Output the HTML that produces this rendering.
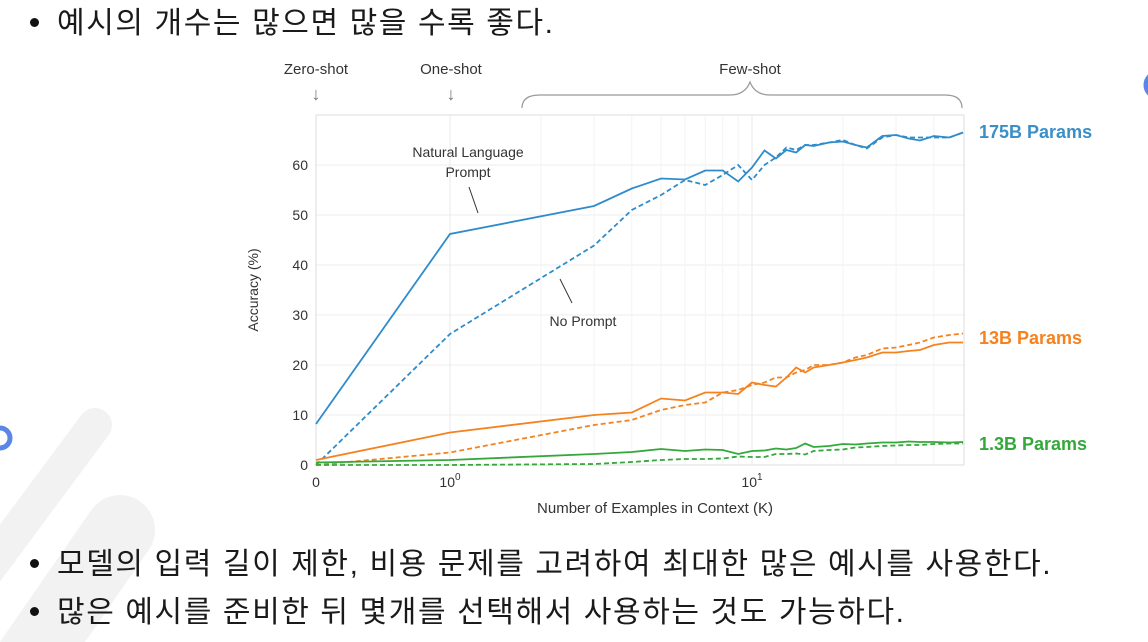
<!DOCTYPE html>
<html><head><meta charset="utf-8">
<style>
body{margin:0;width:1148px;height:642px;background:#fff;overflow:hidden;position:relative;font-family:"Liberation Sans","Noto Sans CJK KR",sans-serif;}
.bullet{position:absolute;left:30px;font-size:30px;letter-spacing:1.6px;color:#1a1a1a;font-family:"Liberation Sans","Noto Sans CJK KR",sans-serif;white-space:nowrap;line-height:40px;}
.bullet::before{content:"";display:inline-block;width:9px;height:9px;border-radius:50%;background:#111;margin-right:18px;vertical-align:middle;position:relative;top:-3px;}
svg{position:absolute;left:0;top:0;}
</style></head>
<body>
<svg width="1148" height="642">
  <g>
    <line x1="95" y1="425" x2="-20" y2="580" stroke="#f2f2f2" stroke-width="34" stroke-linecap="round"/>
    <line x1="120" y1="530" x2="30" y2="660" stroke="#f2f2f2" stroke-width="70" stroke-linecap="round"/>
    <circle cx="0" cy="438" r="10" fill="none" stroke="#5b86e5" stroke-width="5"/>
    <circle cx="1158" cy="85" r="12" fill="none" stroke="#5b86e5" stroke-width="5"/>
  </g>
  <g id="grid"></g>
  <rect x="316" y="115" width="648" height="350" fill="none" stroke="#ddd"/>
  <g id="marks"></g>
  <g id="axes" font-size="14" fill="#333"></g>
  <text x="0" y="0" transform="translate(258,290) rotate(-90)" text-anchor="middle" font-size="14" fill="#333">Accuracy (%)</text>
  <text x="655" y="513" text-anchor="middle" font-size="15" fill="#333">Number of Examples in Context  (K)</text>
  <g font-size="15" fill="#333" text-anchor="middle">
    <text x="316" y="74">Zero-shot</text>
    <text x="316" y="100" font-size="18" fill="#777">↓</text>
    <text x="451" y="74">One-shot</text>
    <text x="451" y="100" font-size="18" fill="#777">↓</text>
    <text x="750" y="74">Few-shot</text>
  </g>
  <path d="M522,108 Q522,95 540,95 L730,95 Q745,95 750,82 Q755,95 770,95 L945,95 Q962,95 962,108" fill="none" stroke="#999" stroke-width="1.2"/>
  <g font-size="14" fill="#333" text-anchor="middle">
    <text x="468" y="157">Natural Language</text>
    <text x="468" y="177">Prompt</text>
    <line x1="469" y1="187" x2="478" y2="213" stroke="#333"/>
    <text x="583" y="326">No Prompt</text>
    <line x1="560" y1="279" x2="572" y2="303" stroke="#333"/>
  </g>
  <g font-size="18" font-weight="bold">
    <text x="979" y="138" fill="#3a8fc8">175B Params</text>
    <text x="979" y="344" fill="#f5821f">13B Params</text>
    <text x="979" y="450" fill="#34a83a">1.3B Params</text>
  </g>
</svg>
<div class="bullet" style="top:4px;">예시의 개수는 많으면 많을 수록 좋다.</div>
<div class="bullet" style="top:545px;">모델의 입력 길이 제한, 비용 문제를 고려하여 최대한 많은 예시를 사용한다.</div>
<div class="bullet" style="top:593px;">많은 예시를 준비한 뒤 몇개를 선택해서 사용하는 것도 가능하다.</div>
<script>
const kValues = [0,1,3,4,5,6,7,8,9,10,11,12,13,14,15,16,18,20,22,24,27,30,33,36,40,45,50];
const blueSolid = [8.2,46.2,51.8,55.3,57.3,57.1,58.9,58.9,56.7,59.5,62.9,61.3,63,62.5,64,63.8,64.5,64.7,64,63.5,65.8,66,65.3,64.9,65.8,65.5,66.5];
const blueDashed = [0,26.2,43.9,51,54,57,56,58,60,57,60,61.5,63.5,63,64,64,64.5,65,64,63.3,65.5,66,65.5,65.5,65.5,65.5,66.5];
const orangeSolid = [1,6.5,10,10.5,13.3,12.9,14.5,14.5,14.2,16.5,16,15.7,17.5,19.5,18.5,19.5,20,20.5,21,21.5,22.5,22.5,22.8,23,24,24.5,24.5];
const orangeDashed = [0,2.5,8,9,11,12,12.5,14.5,15,16,16.5,17.5,17.5,18.5,19,20,20,20.5,21.5,22,23.3,23.5,24,24.5,25.5,26,26.3];
const greenSolid = [0.5,1,2.2,2.6,3.2,2.8,3.1,3,2.2,2.8,2.9,3.3,3.1,3.4,4.3,3.6,3.8,4.2,4.1,4.3,4.5,4.5,4.7,4.6,4.6,4.5,4.6];
const greenDashed = [0,0,0.2,0.6,1,1.2,1.2,1.3,1.7,1.6,1.6,2.2,2.2,2.3,2.1,2.8,3,3.1,3.5,3.6,3.8,3.9,4,4,4.2,4.3,4.3];
const yTicks = [0,10,20,30,40,50,60];
const minorK = [2,3,4,5,6,7,8,9,20,30,40];

const NS='http://www.w3.org/2000/svg';
function xs(k){ return k<1 ? 316 + k*134 : 450 + 302*Math.log10(k); }
function ys(v){ return 465 - v*5; }
const grid=document.getElementById('grid'), axes=document.getElementById('axes'), marks=document.getElementById('marks');
function mk(tag,attrs,parent){const e=document.createElementNS(NS,tag);for(const a in attrs)e.setAttribute(a,attrs[a]);parent.appendChild(e);return e;}
yTicks.forEach(t=>{
  const g=mk('line',{x1:316,x2:964,y1:ys(t),y2:ys(t),stroke:'#eee'},grid);
  
  
  const tx=mk('text',{x:308,y:ys(t)+5,'text-anchor':'end'},axes);
  tx.textContent=t;
  
  
});
[1,10].concat(minorK).forEach(k=>{
  const g=mk('line',{x1:xs(k),x2:xs(k),y1:115,y2:465,stroke:k===1||k===10?'#eaeaea':'#f3f3f3'},grid);
  
  
});
[[0,'0',''],[1,'10','0'],[10,'10','1']].forEach(([k,b,s])=>{
  const t=mk('text',{x:xs(k),y:487,'text-anchor':'middle'},axes);
  t.textContent=b;
  if(s){const ts=mk('tspan',{dy:-7,'font-size':10},t);ts.textContent=s;}
  
  
});
const series=[[blueSolid,'#2f8ccb',null,'series-175b-prompt'],[blueDashed,'#2f8ccb','5,3','series-175b-no-prompt'],
 [orangeSolid,'#f5821f',null,'series-13b-prompt'],[orangeDashed,'#f5821f','5,3','series-13b-no-prompt'],
 [greenSolid,'#34a83a',null,'series-1-3b-prompt'],[greenDashed,'#34a83a','5,3','series-1-3b-no-prompt']];
series.forEach(([vals,c,d,name])=>{
  const p=mk('polyline',{points:vals.map((v,i)=>xs(kValues[i])+','+ys(v)).join(' '),fill:'none',stroke:c,'stroke-width':1.8},marks);
  if(d)p.setAttribute('stroke-dasharray',d);
  
  
});
</script>
</body></html>
